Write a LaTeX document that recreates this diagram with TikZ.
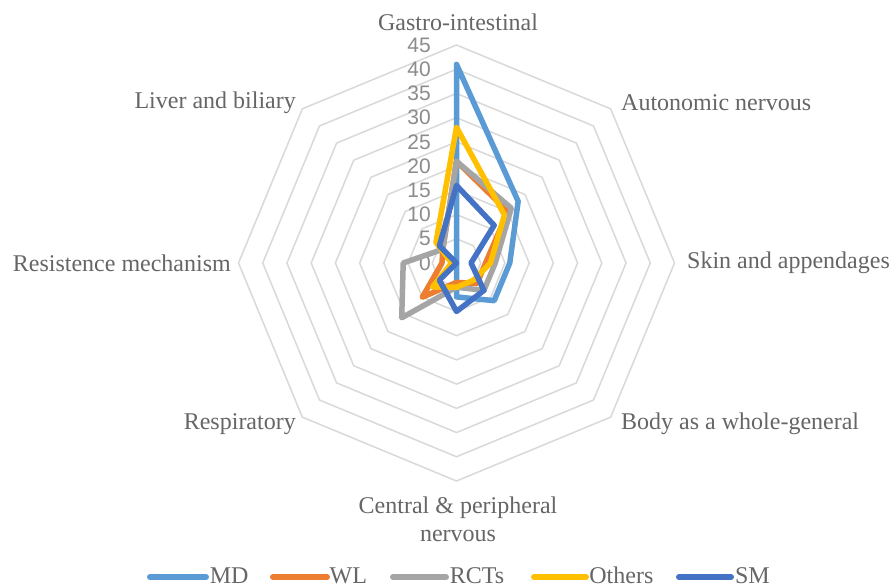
\documentclass[tikz,border=0pt]{standalone}
\usepackage{fontspec}
\setmainfont{Liberation Serif}
\newfontfamily\numfont{Liberation Sans}
\definecolor{mdc}{HTML}{5B9BD5}
\definecolor{wlc}{HTML}{ED7D31}
\definecolor{rctc}{HTML}{A5A5A5}
\definecolor{othc}{HTML}{FFC000}
\definecolor{smc}{HTML}{4472C4}
\definecolor{gridc}{HTML}{D9D9D9}
\definecolor{txtc}{HTML}{666666}
\definecolor{numc}{HTML}{8C8C8C}
\newcommand\radarline[9]{\draw[#1] (90:#2) -- (45:#3) -- (0:#4) -- (-45:#5) -- (-90:#6) -- (-135:#7) -- (180:#8) -- (135:#9) -- cycle;}
\begin{document}
\begin{tikzpicture}[x=1pt,y=1pt,
  gridline/.style={draw=gridc,line width=1.5pt},
  serie/.style={line width=5.5pt,line join=round},
  numlbl/.style={font=\numfont\fontsize{21}{21}\selectfont,text=numc,anchor=east,inner sep=0pt},
  axlbl/.style={font=\fontsize{24}{28}\selectfont,text=txtc,inner sep=0pt},
  legline/.style={line width=6pt,line cap=round},
  legtxt/.style={font=\fontsize{24}{24}\selectfont,text=txtc,inner sep=0pt,anchor=base west}]
\useasboundingbox (0,0) rectangle (889,588);
\fill[white] (0,0) rectangle (889,588);
\begin{scope}[shift={(456.5,325)},x=4.8444pt,y=4.8444pt]
  \foreach \r in {5,10,...,45}
    \draw[gridline] (90:\r) -- (45:\r) -- (0:\r) -- (-45:\r) -- (-90:\r) -- (-135:\r) -- (180:\r) -- (135:\r) -- cycle;
  \foreach \v in {0,5,...,45}
    \node[numlbl] (n\v) at (-5.26,\v) {\v};
  \radarline{serie,mdc}{41}{18}{11}{11}{7}{0}{0}{0}
  \radarline{serie,wlc}{21}{15}{6}{6}{4}{10}{3}{4}
  \radarline{serie,rctc}{21}{16}{8}{8}{5}{16}{11}{4}
  \radarline{serie,othc}{28}{14}{7}{5}{5}{7}{1}{6}
  \radarline{serie,smc}{16}{11}{3}{8}{10}{5}{0}{5}
\end{scope}
\node[axlbl] (gi) at (458,565.5) {Gastro-intestinal};
\node[axlbl,anchor=west] (an) at (621,485) {Autonomic nervous};
\node[axlbl,anchor=west] (sk) at (687,325) {Skin and appendages};
\node[axlbl,anchor=west] (bw) at (621,164) {Body as a whole-general};
\node[axlbl,align=center] (cp) at (458,69) {Central \& peripheral\\nervous};
\node[axlbl,anchor=east] (rs) at (296,164) {Respiratory};
\node[axlbl,anchor=east] (rm) at (231,325) {Resistence mechanism};
\node[axlbl,anchor=east] (lb) at (296,485) {Liver and biliary};
% legend
\coordinate (la1) at (150,11); \coordinate (lb1) at (206,11);
\coordinate (la2) at (273,11); \coordinate (lb2) at (327,11);
\coordinate (la3) at (393,11); \coordinate (lb3) at (446,11);
\coordinate (la4) at (534,11); \coordinate (lb4) at (586,11);
\coordinate (la5) at (679,11); \coordinate (lb5) at (731,11);
\draw[legline,mdc] (la1) -- (lb1);
\draw[legline,wlc] (la2) -- (lb2);
\draw[legline,rctc] (la3) -- (lb3);
\draw[legline,othc] (la4) -- (lb4);
\draw[legline,smc] (la5) -- (lb5);
\node[legtxt] (t1) at (209.7,4) {MD};
\node[legtxt] (t2) at (329.5,4) {WL};
\node[legtxt] (t3) at (449.7,4) {RCTs};
\node[legtxt] (t4) at (589.2,4) {Others};
\node[legtxt] (t5) at (734.9,4) {SM};
\end{tikzpicture}
\end{document}
